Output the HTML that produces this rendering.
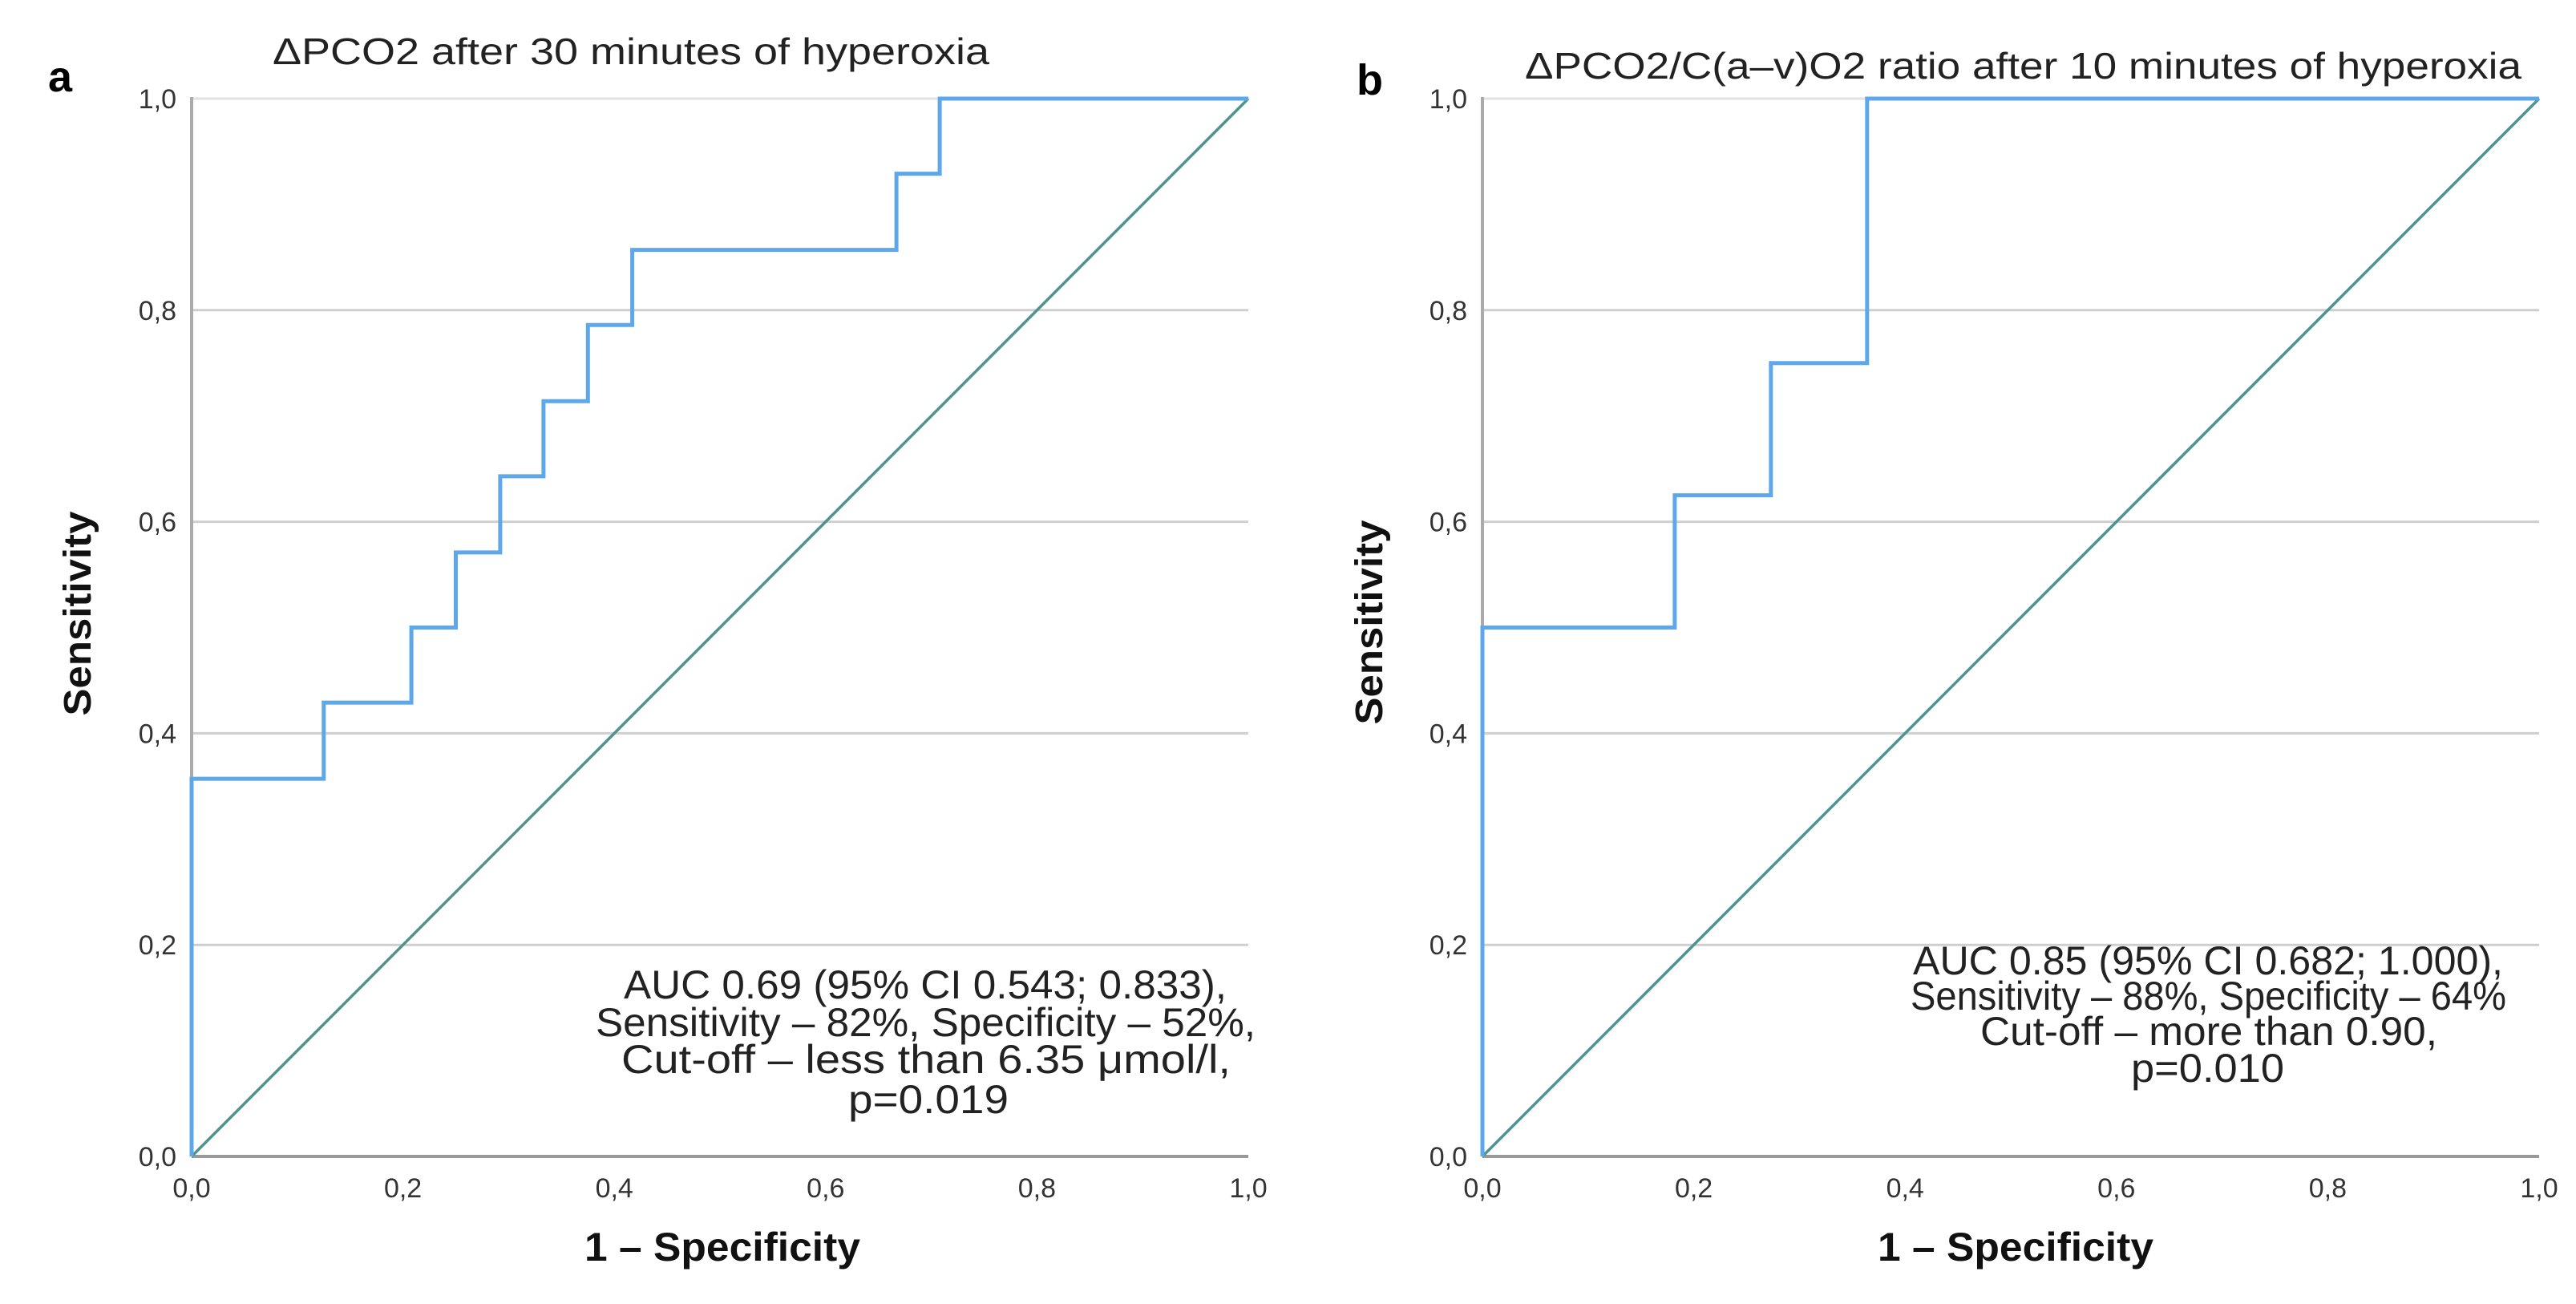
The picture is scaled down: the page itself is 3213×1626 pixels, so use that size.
<!DOCTYPE html>
<html><head><meta charset="utf-8"><style>
html,body{margin:0;padding:0;background:#fff;}
svg{display:block;font-family:"Liberation Sans",sans-serif;}
</style></head><body>
<svg id="fig" width="3213" height="1626" viewBox="0 0 3213 1626" xmlns="http://www.w3.org/2000/svg"></svg>
<script>
// Panel a data
const aFpr = [0, 0, 0.125, 0.125, 0.208, 0.208, 0.25, 0.25, 0.292, 0.292, 0.333, 0.333, 0.375, 0.375, 0.417, 0.417, 0.667, 0.667, 0.708, 0.708, 1.0];
const aTpr = [0, 0.357, 0.357, 0.429, 0.429, 0.5, 0.5, 0.571, 0.571, 0.643, 0.643, 0.714, 0.714, 0.786, 0.786, 0.857, 0.857, 0.929, 0.929, 1.0, 1.0];
// Panel b data
const bFpr = [0, 0, 0.182, 0.182, 0.273, 0.273, 0.364, 0.364, 1.0];
const bTpr = [0, 0.5, 0.5, 0.625, 0.625, 0.75, 0.75, 1.0, 1.0];
const tickValues = [0, 0.2, 0.4, 0.6, 0.8, 1.0];
const tickLabels = ["0,0", "0,2", "0,4", "0,6", "0,8", "1,0"];
const aNote = ["AUC 0.69 (95% CI 0.543; 0.833),", "Sensitivity – 82%, Specificity – 52%,", "Cut-off – less than 6.35 μmol/l,", "p=0.019"];
const bNote = ["AUC 0.85 (95% CI 0.682;   1.000),", "Sensitivity – 88%, Specificity – 64%", "Cut-off – more than 0.90,", "p=0.010"];

const NS = "http://www.w3.org/2000/svg";
const svg = document.getElementById("fig");
function mk(tag, attrs, parent, text) {
  const e = document.createElementNS(NS, tag);
  for (const k in attrs) e.setAttribute(k, attrs[k]);
  if (text !== undefined) e.textContent = text;
  (parent || svg).appendChild(e);
  return e;
}

function panel(cfg) {
  const g = mk("g", {});
  
  
  const L = cfg.left, R = cfg.right, T = 123, B = 1442;
  const xs = v => L + v * (R - L);
  const ys = v => B - v * (B - T);
  tickValues.forEach((v, i) => {
    if (v > 0) {
      const gl = mk("line", {x1: L, x2: R, y1: ys(v), y2: ys(v), stroke: v === 1 ? "#e2e2e2" : "#cfcfcf", "stroke-width": 3}, g);
      
      
    }
    const yl = mk("text", {x: L - 19, y: ys(v) + 12, "text-anchor": "end", "font-size": 34, fill: "#333"}, g, tickLabels[i]);
    
    
    const xl = mk("text", {x: xs(v), y: 1493, "text-anchor": "middle", "font-size": 34, fill: "#333"}, g, tickLabels[i]);
    
    
  });
  const ya = mk("line", {x1: L, x2: L, y1: T - 2, y2: B, stroke: "#aaa", "stroke-width": 4}, g);
  
  
  const xa = mk("line", {x1: L, x2: R, y1: B, y2: B, stroke: "#999", "stroke-width": 4}, g);
  
  
  const dg = mk("line", {x1: xs(0), y1: ys(0), x2: xs(1), y2: ys(1), stroke: "#4f9390", "stroke-width": 3.5}, g);
  
  
  const pts = cfg.fpr.map((f, i) => xs(f).toFixed(1) + "," + ys(cfg.tpr[i]).toFixed(1)).join(" ");
  const roc = mk("polyline", {points: pts, fill: "none", stroke: "#5ea8ea", "stroke-width": 5}, g);
  
  
  const t = mk("text", {x: cfg.titleX, y: cfg.titleY, "font-size": 46, fill: "#222", textLength: cfg.titleW, lengthAdjust: "spacingAndGlyphs"}, g, cfg.title);
  
  
  const lb = mk("text", {x: cfg.letterX, y: cfg.letterY, "font-size": 54, "font-weight": "bold", fill: "#000"}, g, cfg.letter);
  
  
  const yt = mk("text", {x: 0, y: 0, "font-size": 48, "font-weight": "bold", fill: "#111", "text-anchor": "middle",
    transform: "translate(" + (cfg.ytX + 16) + "," + cfg.ytY + ") rotate(-90)", textLength: 255, lengthAdjust: "spacingAndGlyphs"}, g, "Sensitivity");
  
  
  const xt = mk("text", {x: cfg.xtX, y: 1572, "font-size": 50, "font-weight": "bold", fill: "#111", "text-anchor": "middle", textLength: 344, lengthAdjust: "spacingAndGlyphs"}, g, "1 – Specificity");
  
  
  cfg.note.forEach((line, i) => {
    const n = mk("text", {x: cfg.noteX[i], y: cfg.noteY[i], "font-size": 50, fill: "#222", textLength: cfg.noteW[i], lengthAdjust: "spacingAndGlyphs"}, g, line);
    
    
  });
}

panel({name: "panel-a", left: 239, right: 1557, fpr: aFpr, tpr: aTpr,
  title: "ΔPCO2  after 30 minutes of hyperoxia", titleX: 340, titleY: 80, titleW: 894,
  letter: "a", letterX: 60, letterY: 114, ytX: 97, ytY: 765, xtX: 901,
  note: aNote, noteX: [778, 743, 775, 1058], noteY: [1245, 1292, 1338, 1388], noteW: [752, 823, 760, 200]});
panel({name: "panel-b", left: 1849, right: 3167, fpr: bFpr, tpr: bTpr,
  title: "ΔPCO2/C(a–v)O2 ratio after 10 minutes of hyperoxia", titleX: 1902, titleY: 98, titleW: 1243,
  letter: "b", letterX: 1692, letterY: 118, ytX: 1708, ytY: 776, xtX: 2514,
  note: bNote, noteX: [2386, 2383, 2470, 2658], noteY: [1215, 1259, 1303, 1349], noteW: [736, 743, 570, 191]});
</script>
</body></html>
